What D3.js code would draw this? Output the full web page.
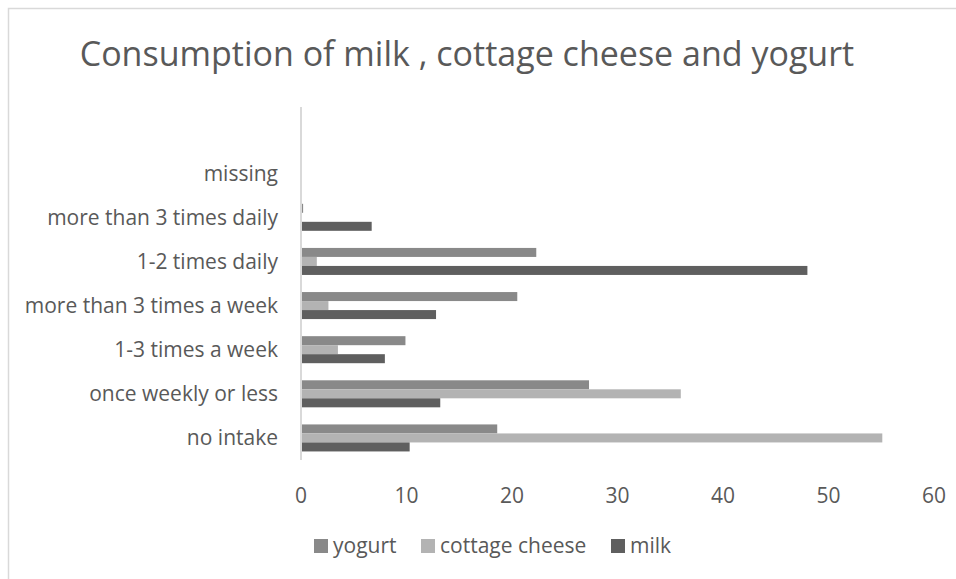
<!DOCTYPE html>
<html>
<head>
<meta charset="utf-8">
<script src="https://cdn.jsdelivr.net/npm/d3@7"></script>
<style>
	body { margin: 0; background: #fff; }
	svg { display: block; font-family: 'Open Sans', 'Noto Sans', sans-serif; }
</style>
</head>
<body>
<svg id="chart" width="956" height="579"></svg>
<script>
// categories listed bottom to top, top slot is empty
const categories = ['no intake', 'once weekly or less', '1-3 times a week', 'more than 3 times a week', '1-2 times daily', 'more than 3 times daily', 'missing', ''];
const seriesNames = ['yogurt', 'cottage cheese', 'milk'];
const yogurt = [18.6, 27.3, 9.9, 20.5, 22.3, 0.2, 0, 0];
const cottageCheese = [55.1, 36.0, 3.5, 2.6, 1.5, 0, 0, 0];
const milk = [10.3, 13.2, 7.95, 12.8, 48.0, 6.7, 0, 0];
const xTicks = [0, 10, 20, 30, 40, 50, 60];
const colors = ['#898989', '#b3b3b3', '#5f5f5f'];

const svg = d3.select('#chart');
const textColor = '#595959';

// outer border (runs off the right/bottom edge)
svg.append('rect')
	.attr('x', 8.5).attr('y', 8.5)
	.attr('width', 960).attr('height', 600)
	.attr('fill', 'none').attr('stroke', '#d9d9d9').attr('stroke-width', 1.5);

svg.append('text')
	.attr('x', 467).attr('y', 66)
	.attr('text-anchor', 'middle')
	.attr('font-size', 34)
	.attr('fill', textColor)
	.text('Consumption of milk , cottage cheese and yogurt');

const x = d3.scaleLinear().domain([0, 60]).range([301, 934]);
const y = d3.scaleBand().domain(categories.slice().reverse()).range([107, 460]);
const inner = d3.scaleBand().domain(seriesNames).range([0, y.bandwidth()]).paddingOuter(0.95);

const rows = categories.map((c, i) => ({cat: c, vals: [yogurt[i], cottageCheese[i], milk[i]]}));

const groups = svg.append('g').selectAll('g')
	.data(rows)
	.enter().append('g')
	.attr('transform', d => `translate(0,${y(d.cat)})`);

groups.selectAll('rect')
	.data(d => d.vals.map((v, j) => ({name: seriesNames[j], v, j})))
	.enter().append('rect')
	.attr('x', x(0))
	.attr('y', d => inner(d.name))
	.attr('width', d => x(d.v) - x(0))
	.attr('height', inner.bandwidth())
	.attr('fill', d => colors[d.j]);

// vertical axis line
svg.append('line')
	.attr('x1', x(0)).attr('x2', x(0))
	.attr('y1', 107).attr('y2', 460)
	.attr('stroke', '#d9d9d9').attr('stroke-width', 2);

// category labels
svg.append('g').selectAll('text')
	.data(categories)
	.enter().append('text')
	.attr('x', 278)
	.attr('y', d => y(d) + y.bandwidth() / 2)
	.attr('dy', '0.35em')
	.attr('text-anchor', 'end')
	.attr('font-size', 21)
	.attr('fill', textColor)
	.text(d => d);

// x tick labels
svg.append('g').selectAll('text')
	.data(xTicks)
	.enter().append('text')
	.attr('x', d => x(d))
	.attr('y', 503)
	.attr('text-anchor', 'middle')
	.attr('font-size', 21)
	.attr('fill', textColor)
	.text(d => d);

// legend
const legendX = [314, 421, 611];
const legend = svg.append('g').selectAll('g')
	.data(seriesNames)
	.enter().append('g')
	.attr('transform', (d, i) => `translate(${legendX[i]},546)`);
legend.append('rect')
	.attr('x', 0).attr('y', -7)
	.attr('width', 14).attr('height', 14)
	.attr('fill', (d, i) => colors[i]);
legend.append('text')
	.attr('x', 19)
	.attr('dy', '0.35em')
	.attr('font-size', 21)
	.attr('fill', textColor)
	.text(d => d);
</script>
</body>
</html>
